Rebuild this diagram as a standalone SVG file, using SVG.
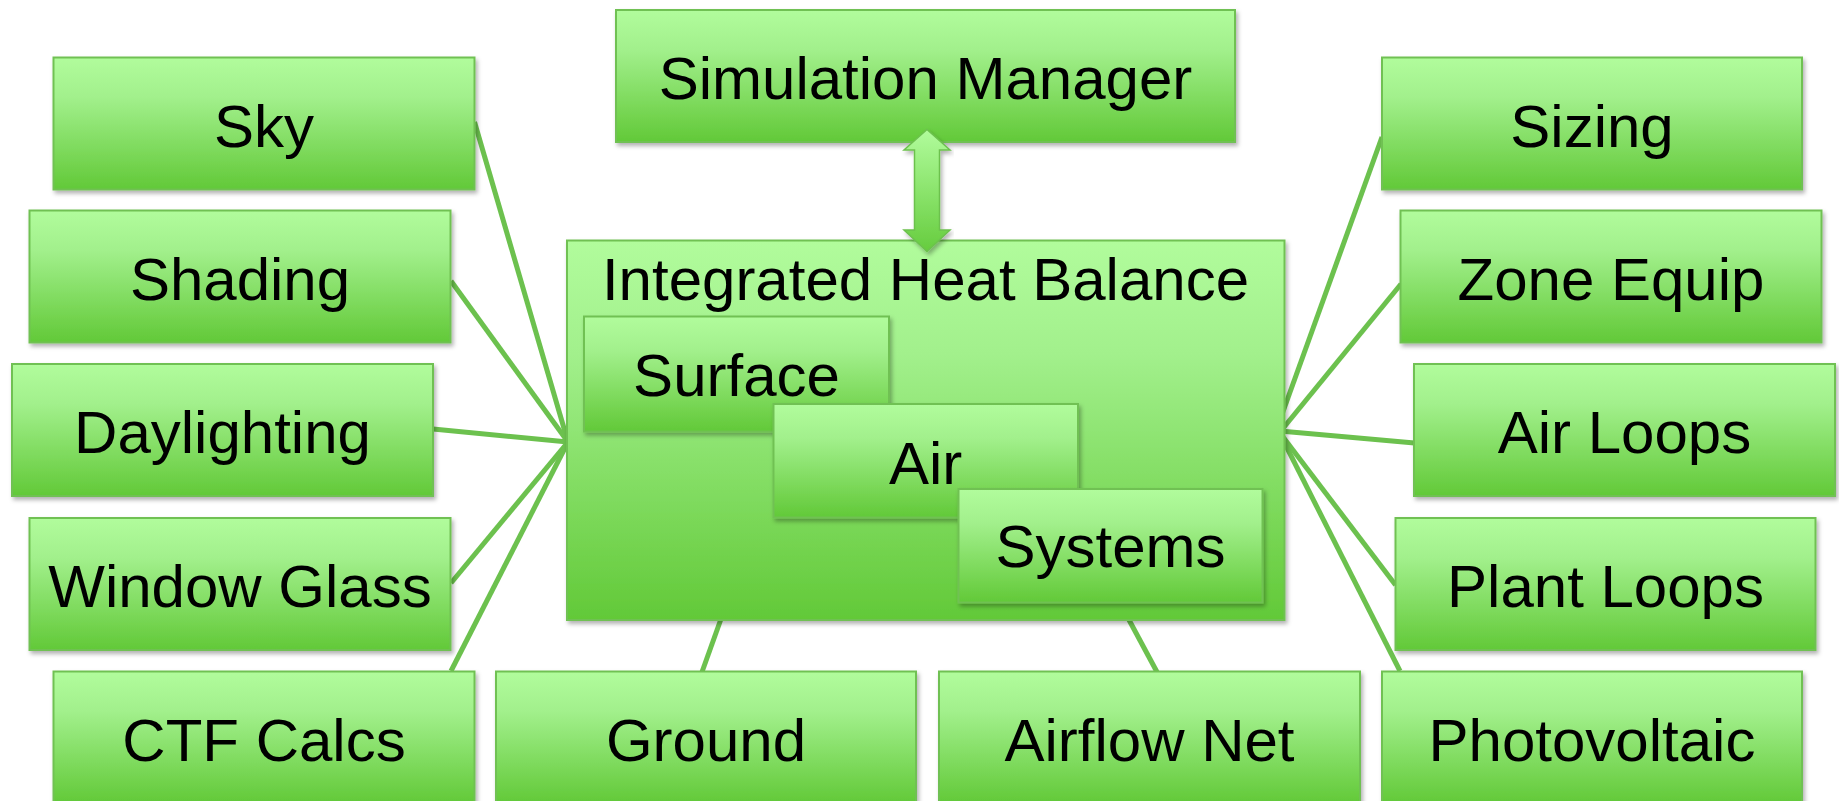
<svg xmlns="http://www.w3.org/2000/svg" width="1839" height="801" viewBox="0 0 1839 801">
  <defs>
    <linearGradient id="g" x1="0" y1="0" x2="0" y2="1">
      <stop offset="0" stop-color="#b1fc9c"/>
      <stop offset="0.3" stop-color="#a2f08c"/>
      <stop offset="1" stop-color="#62c938"/>
    </linearGradient>
    <linearGradient id="ga" x1="0" y1="0" x2="0" y2="1">
      <stop offset="0" stop-color="#b1fc9c"/>
      <stop offset="1" stop-color="#66cc3e"/>
    </linearGradient>
    <filter id="sh" x="-5%" y="-5%" width="112%" height="115%">
      <feDropShadow dx="2" dy="3" stdDeviation="2" flood-color="#000" flood-opacity="0.3"/>
    </filter>
  </defs>
  <style>
    .box { fill: url(#g); stroke: #70c152; stroke-width: 2; filter: url(#sh); }
    .lbl { font-family: "Liberation Sans", Arial, sans-serif; font-size: 60px; fill: #000; text-anchor: middle; }
    .conn line { stroke: #6cc14e; stroke-width: 5; stroke-linecap: butt; }
  </style>
  <rect width="1839" height="801" fill="#fff"/>

  <g id="connectors" class="conn">
    <line x1="474.5" y1="122" x2="568" y2="442"/>
    <line x1="451" y1="281" x2="568" y2="442"/>
    <line x1="433" y1="429" x2="568" y2="442"/>
    <line x1="451" y1="583" x2="568" y2="442"/>
    <line x1="451" y1="671" x2="568" y2="442"/>
    <line x1="702" y1="672" x2="726" y2="605"/>
    <line x1="1157" y1="672" x2="1121" y2="605"/>
    <line x1="1382" y1="137" x2="1276" y2="431"/>
    <line x1="1401" y1="284" x2="1280" y2="432"/>
    <line x1="1414.5" y1="443" x2="1280" y2="431"/>
    <line x1="1395.5" y1="585" x2="1280" y2="433"/>
    <line x1="1400" y1="671" x2="1280" y2="434"/>
  </g>

  <g id="sky"><rect class="box" x="53.5" y="57.5" width="421" height="132"/><text class="lbl" x="264" y="146.5">Sky</text></g>
  <g id="shading"><rect class="box" x="29.5" y="210.5" width="421" height="132"/><text class="lbl" x="240" y="299.5">Shading</text></g>
  <g id="daylighting"><rect class="box" x="12" y="364" width="421" height="132"/><text class="lbl" x="222.5" y="453">Daylighting</text></g>
  <g id="windowglass"><rect class="box" x="29.5" y="518" width="421" height="132"/><text class="lbl" x="240" y="607">Window Glass</text></g>
  <g id="ctf"><rect class="box" x="53.5" y="671.5" width="421" height="132"/><text class="lbl" x="264" y="760.5">CTF Calcs</text></g>
  <g id="ground"><rect class="box" x="496" y="671.5" width="420" height="132"/><text class="lbl" x="706" y="760.5">Ground</text></g>
  <g id="airflow"><rect class="box" x="939" y="671.5" width="421" height="132"/><text class="lbl" x="1149.5" y="760.5">Airflow Net</text></g>
  <g id="photovoltaic"><rect class="box" x="1382" y="671.5" width="420" height="132"/><text class="lbl" x="1592" y="760.5">Photovoltaic</text></g>
  <g id="plantloops"><rect class="box" x="1395.5" y="518" width="420" height="132"/><text class="lbl" x="1605.5" y="607">Plant Loops</text></g>
  <g id="airloops"><rect class="box" x="1414" y="364" width="421" height="132"/><text class="lbl" x="1624.5" y="453">Air Loops</text></g>
  <g id="zoneequip"><rect class="box" x="1400.5" y="210.5" width="421" height="132"/><text class="lbl" x="1611" y="299.5">Zone Equip</text></g>
  <g id="sizing"><rect class="box" x="1382" y="57.5" width="420" height="132"/><text class="lbl" x="1592" y="146.5">Sizing</text></g>

  <g id="simmanager"><rect class="box" x="616" y="10" width="619" height="132"/><text class="lbl" x="925.5" y="99">Simulation Manager</text></g>

  <g id="ihb">
    <rect class="box" x="567" y="240.5" width="717.5" height="379.5"/>
    <text class="lbl" x="925.5" y="300">Integrated Heat Balance</text>
  </g>
  <g id="surface"><rect class="box" x="584" y="316.5" width="305" height="115"/><text class="lbl" x="736.5" y="396">Surface</text></g>
  <g id="air"><rect class="box" x="773.5" y="404" width="304.5" height="113.5"/><text class="lbl" x="925.7" y="483.5">Air</text></g>
  <g id="systems"><rect class="box" x="958.5" y="489" width="304" height="113.5"/><text class="lbl" x="1110.5" y="567">Systems</text></g>

  <g id="arrow">
    <path d="M927,129.5 L950,150 L939.5,150 L939.5,230 L950,230 L927,251.5 L904,230 L914.5,230 L914.5,150 L904,150 Z" fill="url(#ga)" stroke="#6cc14e" stroke-width="1.5" filter="url(#sh)"/>
  </g>
</svg>
